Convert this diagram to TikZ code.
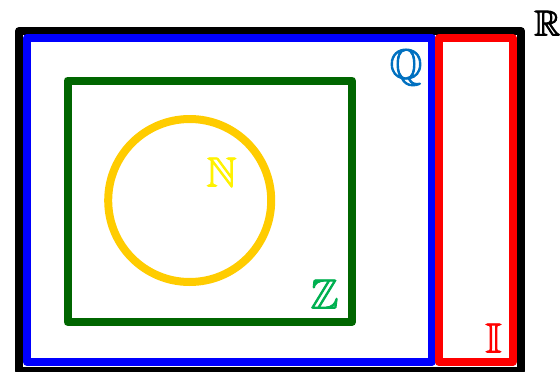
\documentclass[tikz,border=0pt]{standalone}
\usepackage{amssymb}
\definecolor{qblue}{RGB}{0,112,192}
\definecolor{zgreen}{RGB}{0,176,80}
\definecolor{dgreen}{RGB}{0,102,0}
\definecolor{gold}{RGB}{255,204,0}
\newcommand{\fakebold}[1]{\special{pdf:literal direct 2 Tr 0.9 w}#1\special{pdf:literal direct 0 Tr}}
\begin{document}
\begin{tikzpicture}[x=1pt,y=-1pt,
  setline/.style={line width=8pt,line join=round},
  setlabel/.style={inner sep=0pt,anchor=base,font=\fontsize{42}{42}\selectfont}]
\useasboundingbox (0,0) rectangle (560,372);
\draw[setline,black] (19,31) rectangle (521,370.5);
\draw[setline,blue] (27,38) rectangle (431.5,362);
\draw[setline,red] (439,38) rectangle (512.5,362);
\draw[setline,dgreen] (67.5,80.5) rectangle (352,322);
\draw[setline,gold] (189.7,200.5) circle[radius=81.5];
\node[setlabel,text=yellow] (N) at (221.5,186.5) {\fakebold{$\mathbb{N}$}};
\node[setlabel,text=zgreen] (Z) at (324.5,308.5) {\fakebold{$\mathbb{Z}$}};
\node[setlabel,text=qblue] (Q) at (406,78.5) {\fakebold{$\mathbb{Q}$}};
\node[setlabel,text=red] (I) at (493.5,352.5) {\fakebold{$\mathbb{I}$}};
\node[setlabel,text=black,anchor=base west,font=\fontsize{36}{36}\selectfont] (R) at (534,35.5) {\fakebold{$\mathbb{R}$}};
\end{tikzpicture}
\end{document}
